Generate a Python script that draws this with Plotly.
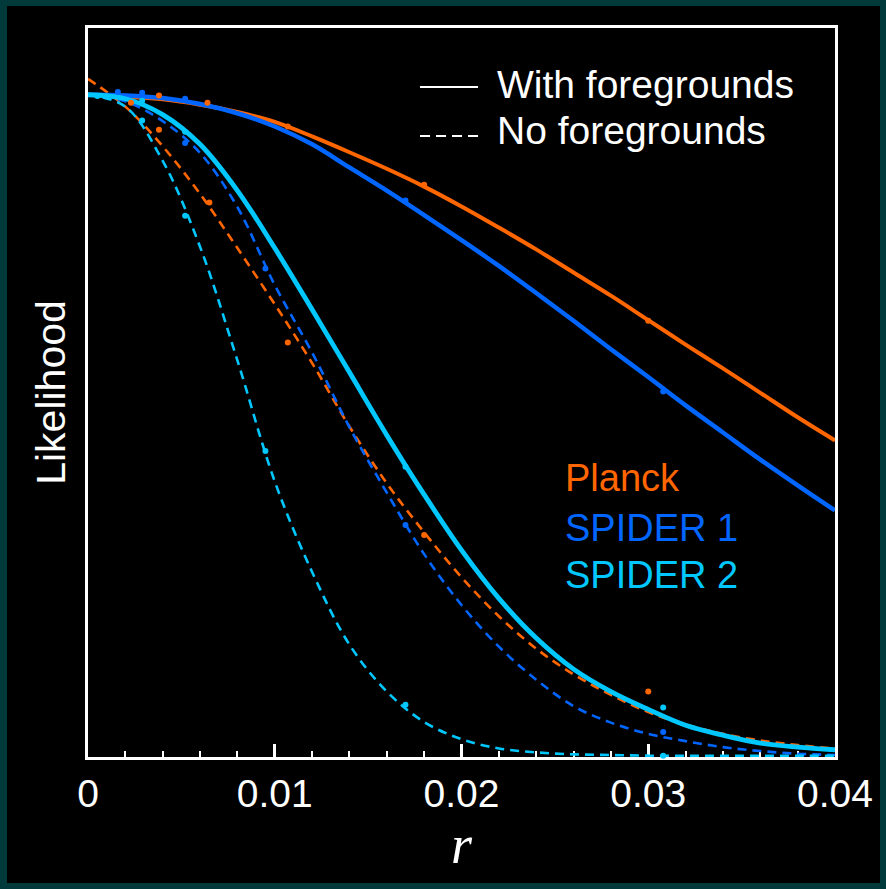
import plotly.graph_objects as go

# ---------------- data ----------------
r_grid = [0.000, 0.002, 0.004, 0.006, 0.008, 0.010, 0.012, 0.014, 0.016, 0.018, 0.020,
          0.022, 0.024, 0.026, 0.028, 0.030, 0.032, 0.034, 0.036, 0.038, 0.040]

planck_fg = [1.000, 0.997, 0.993, 0.985, 0.974, 0.959, 0.937, 0.913, 0.888, 0.861, 0.831,
             0.799, 0.766, 0.731, 0.696, 0.659, 0.622, 0.586, 0.549, 0.512, 0.477]
spider1_fg = [1.000, 0.999, 0.995, 0.986, 0.972, 0.952, 0.925, 0.890, 0.855, 0.818, 0.780,
              0.741, 0.700, 0.658, 0.615, 0.573, 0.530, 0.489, 0.448, 0.409, 0.371]
spider2_fg = [1.000, 0.994, 0.970, 0.925, 0.855, 0.768, 0.675, 0.580, 0.485, 0.395, 0.311,
              0.238, 0.178, 0.131, 0.097, 0.070, 0.046, 0.031, 0.019, 0.013, 0.009]

planck_nofg = [1.024, 0.982, 0.922, 0.850, 0.768, 0.683, 0.594, 0.498, 0.412, 0.338, 0.270,
               0.211, 0.162, 0.123, 0.092, 0.066, 0.047, 0.033, 0.023, 0.016, 0.011]
spider1_nofg = [1.000, 0.990, 0.960, 0.912, 0.830, 0.712, 0.610, 0.497, 0.398, 0.305, 0.228,
                0.165, 0.115, 0.075, 0.050, 0.033, 0.022, 0.013, 0.007, 0.003, 0.001]
spider2_nofg = [1.000, 0.982, 0.900, 0.770, 0.598, 0.415, 0.278, 0.168, 0.097, 0.051, 0.025,
                0.011, 0.005, 0.002, 0.001, 0.000, 0.000, 0.000, 0.000, 0.000, 0.000]

# sampled points (dots)
planck_pts_fg_r = [0.0038, 0.0064, 0.0107, 0.0180, 0.0300]
planck_pts_fg = [0.999, 0.988, 0.952, 0.864, 0.658]
planck_pts_nofg_r = [0.0023, 0.0038, 0.0065, 0.0107, 0.0180, 0.0300]
planck_pts_nofg = [0.988, 0.947, 0.837, 0.625, 0.334, 0.097]

spider1_pts_fg_r = [0.0016, 0.0029, 0.0052, 0.0170, 0.0308]
spider1_pts_fg = [1.004, 1.003, 0.994, 0.840, 0.551]
spider1_pts_nofg_r = [0.0052, 0.0095, 0.0170, 0.0308]
spider1_pts_nofg = [0.927, 0.737, 0.349, 0.036]

spider2_pts_fg_r = [0.0005, 0.0029, 0.0052, 0.0170, 0.0308]
spider2_pts_fg = [0.998, 0.991, 0.944, 0.437, 0.073]
spider2_pts_nofg_r = [0.0029, 0.0052, 0.0095, 0.0170, 0.0308]
spider2_pts_nofg = [0.961, 0.817, 0.461, 0.077, 0.000]

x_tickvals = [0, 0.01, 0.02, 0.03, 0.04]
x_ticktext = ["0", "0.01", "0.02", "0.03", "0.04"]

series_names = ["Planck", "SPIDER 1", "SPIDER 2"]
colors = ["#ff6600", "#0066ff", "#00c8ff"]

# ---------------- figure ----------------
fig = go.Figure()

dash_style = "9px,6px"
nofg = [planck_nofg, spider1_nofg, spider2_nofg]
fg = [planck_fg, spider1_fg, spider2_fg]

for name, col, ys in zip(series_names, colors, nofg):
    fig.add_trace(go.Scatter(x=r_grid, y=ys, mode="lines", name=name + " (no fg)",
                             line=dict(color=col, width=2.6, dash=dash_style, shape="spline", smoothing=1.0),
                             showlegend=False, hoverinfo="skip"))

for name, col, ys, w in zip(series_names, colors, fg, [4.0, 4.5, 4.8]):
    fig.add_trace(go.Scatter(x=r_grid, y=ys, mode="lines", name=name,
                             line=dict(color=col, width=w, shape="spline", smoothing=1.0),
                             showlegend=False, hoverinfo="skip"))

pts = [
    (planck_pts_fg_r, planck_pts_fg, colors[0]),
    (planck_pts_nofg_r, planck_pts_nofg, colors[0]),
    (spider1_pts_fg_r, spider1_pts_fg, colors[1]),
    (spider1_pts_nofg_r, spider1_pts_nofg, colors[1]),
    (spider2_pts_fg_r, spider2_pts_fg, colors[2]),
    (spider2_pts_nofg_r, spider2_pts_nofg, colors[2]),
]
for xs, ys, col in pts:
    fig.add_trace(go.Scatter(x=xs, y=ys, mode="markers", marker=dict(color=col, size=6),
                             showlegend=False, hoverinfo="skip", cliponaxis=False))

W, H = 886, 889
L_M, R_M, T_M, B_M = 88, 51, 28, 132
pw, ph = W - L_M - R_M, H - T_M - B_M


def px(xp):
    return (xp - L_M) / pw


def py(yp):
    return (H - B_M - yp) / ph


font_main = "Liberation Sans, Arial, Helvetica, sans-serif"

fig.update_layout(
    width=W, height=H,
    margin=dict(l=L_M, r=R_M, t=T_M, b=B_M, pad=0),
    paper_bgcolor="#003a3a",
    plot_bgcolor="#000000",
    template="none",
    showlegend=False,
    font=dict(family=font_main, color="white", size=38),
    xaxis=dict(
        range=[0, 0.04],
        tickvals=x_tickvals, ticktext=x_ticktext,
        ticks="inside", ticklen=13, tickwidth=2.5, tickcolor="white",
        minor=dict(dtick=0.002, tick0=0, ticks="inside", ticklen=6, tickwidth=2, tickcolor="white", showgrid=False),
        showline=True, linecolor="white", linewidth=3, mirror=True,
        showgrid=False, zeroline=False,
        tickfont=dict(family=font_main, size=39, color="white"),
        title=dict(text="<i>r</i>", font=dict(family="Liberation Serif, Times New Roman, serif", size=54, color="white"),
                   standoff=6),
        layer="below traces",
    ),
    yaxis=dict(
        range=[-0.002, 1.101],
        showticklabels=False, ticks="",
        showline=True, linecolor="white", linewidth=3, mirror=True,
        showgrid=False, zeroline=False,
        title=dict(text="Likelihood", font=dict(family=font_main, size=41, color="white"), standoff=7),
        layer="below traces",
    ),
)

# black panel inside the teal frame
fig.add_shape(type="rect", xref="paper", yref="paper", layer="below",
              x0=px(7), x1=px(880), y0=py(883), y1=py(6),
              fillcolor="#000000", line=dict(width=0))

# line-style key
fig.add_shape(type="line", xref="paper", yref="paper", x0=px(420), x1=px(478), y0=py(87), y1=py(87),
              line=dict(color="white", width=2))
fig.add_shape(type="line", xref="paper", yref="paper", x0=px(420), x1=px(478), y0=py(136), y1=py(136),
              line=dict(color="white", width=2, dash="10px,6px"))
fig.add_annotation(xref="paper", yref="paper", x=px(495), y=py(84), xanchor="left", yanchor="middle",
                   text="With foregrounds", showarrow=False, font=dict(size=39, color="white", family=font_main))
fig.add_annotation(xref="paper", yref="paper", x=px(495), y=py(130), xanchor="left", yanchor="middle",
                   text="No foregrounds", showarrow=False, font=dict(size=39, color="white", family=font_main))

# series labels
for name, col, yc in zip(series_names, colors, [478, 528, 575]):
    fig.add_annotation(xref="paper", yref="paper", x=px(563), y=py(yc), xanchor="left", yanchor="middle",
                       text=name, showarrow=False, font=dict(size=38, color=col, family=font_main))

fig.write_html("out.html")
